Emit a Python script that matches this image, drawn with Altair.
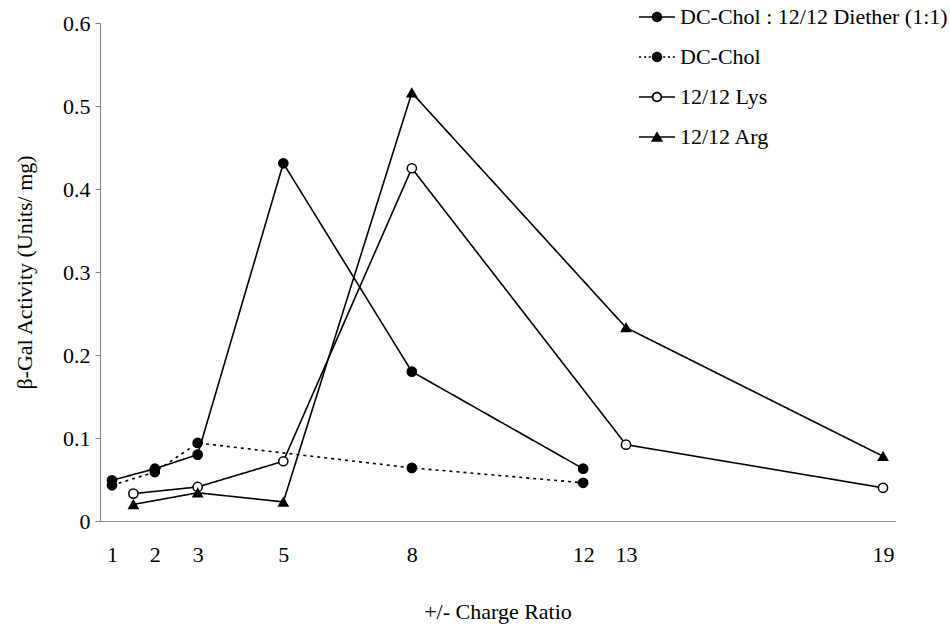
import altair as alt
import pandas as pd

# ---------------- data ----------------
series_names = ["DC-Chol : 12/12 Diether (1:1)", "DC-Chol", "12/12 Lys", "12/12 Arg"]

x_diether = [1, 2, 3, 5, 8, 12]
y_diether = [0.049, 0.063, 0.080, 0.431, 0.180, 0.063]

x_dcchol = [1, 2, 3, 8, 12]
y_dcchol = [0.043, 0.059, 0.094, 0.064, 0.046]

x_lys = [1.5, 3, 5, 8, 13, 19]
y_lys = [0.033, 0.041, 0.072, 0.425, 0.092, 0.040]

x_arg = [1.5, 3, 5, 8, 13, 19]
y_arg = [0.020, 0.034, 0.023, 0.516, 0.233, 0.078]

x_ticks = [1, 2, 3, 5, 8, 12, 13, 19]
y_ticks = [0, 0.1, 0.2, 0.3, 0.4, 0.5, 0.6]

rows = []
for name, xs, ys in zip(series_names,
                        [x_diether, x_dcchol, x_lys, x_arg],
                        [y_diether, y_dcchol, y_lys, y_arg]):
    for i, (xv, yv) in enumerate(zip(xs, ys)):
        rows.append({"series": name, "ratio": xv, "activity": yv, "order": i})
df = pd.DataFrame(rows)

# ---------------- styling ----------------
FONT = "Liberation Serif"
FS = 22
dash_range = [[1, 0], [3, 4], [1, 0], [1, 0]]
shape_range = ["circle", "circle", "circle", "triangle-up"]
fill_range = ["black", "black", "white", "black"]


# legend symbols: line + marker drawn as filled custom paths (unit box -1..1)
def seg(x0, x1, h=0.042):
    return f"M{x0},{-h}L{x1},{-h}L{x1},{h}L{x0},{h}Z"


r = 0.29
ri = 0.2
circ = f"M{r},0A{r},{r},0,1,1,{-r},0A{r},{r},0,1,1,{r},0Z"
hole = f"M{ri},0A{ri},{ri},0,1,0,{-ri},0A{ri},{ri},0,1,0,{ri},0Z"
solid_line = seg(-1, 1)
dotted_line = "".join(seg(a, b) for a, b in
                      [(-1, -0.88), (-0.72, -0.6), (-0.46, -0.34),
                       (0.34, 0.46), (0.6, 0.72), (0.88, 1)])
open_line = seg(-1, -r + 0.02) + seg(r - 0.02, 1)
tri = "M0,-0.32L0.34,0.26L-0.34,0.26Z"
legend_paths = [solid_line + circ, dotted_line + circ,
                open_line + circ + hole, solid_line + tri]

x_enc = alt.X(
    "ratio:Q",
    scale=alt.Scale(domain=[0.72, 19.28], nice=False, zero=False),
    axis=alt.Axis(values=x_ticks, title="+/- Charge Ratio", grid=False, ticks=False,
                  labelPadding=23, titlePadding=36, domainColor="#8c8c8c",
                  domainWidth=1, labelFlush=False),
)
y_enc = alt.Y(
    "activity:Q",
    scale=alt.Scale(domain=[0, 0.6], nice=False),
    axis=alt.Axis(values=y_ticks, title="β-Gal Activity (Units/ mg)", grid=False,
                  tickSize=5, tickColor="#808080", domainColor="#808080",
                  labelPadding=5, titlePadding=26,
                  labelExpr="datum.value == 0 ? '0' : format(datum.value, '.1f')"),
)

lines = alt.Chart(df).mark_line(color="black", strokeWidth=1.6).encode(
    x=x_enc, y=y_enc,
    detail="series:N",
    order="order:Q",
    strokeDash=alt.StrokeDash("series:N", scale=alt.Scale(domain=series_names, range=dash_range), legend=None),
)

points = alt.Chart(df).mark_point(filled=True, stroke="black", strokeWidth=1.5, opacity=1, size=85).encode(
    x="ratio:Q", y="activity:Q",
    shape=alt.Shape("series:N", scale=alt.Scale(domain=series_names, range=shape_range), legend=None),
    fill=alt.Fill("series:N", scale=alt.Scale(domain=series_names, range=fill_range), legend=None),
)

legend_layer = alt.Chart(df).mark_point(filled=True, color="black", opacity=0).encode(
    x="ratio:Q", y="activity:Q",
    shape=alt.Shape(
        "series:N",
        scale=alt.Scale(domain=series_names, range=legend_paths),
        legend=alt.Legend(
            title=None, orient="none", legendX=539, legendY=-24,
            labelFont=FONT, labelFontSize=FS, labelColor="black", labelLimit=500,
            labelOffset=5, symbolSize=1296, symbolFillColor="black",
            symbolStrokeColor="black", symbolStrokeWidth=0, symbolOpacity=1,
            rowPadding=11,
        ),
    ),
)

chart = (
    alt.layer(lines, points, legend_layer)
    .resolve_scale(shape="independent", fill="independent", strokeDash="independent")
    .properties(
        width=795, height=498,
        autosize=alt.AutoSizeParams(type="none"),
        padding={"left": 100, "top": 23, "right": 55, "bottom": 110},
        background="white",
    )
    .configure_view(stroke=None)
    .configure_axis(labelFont=FONT, labelFontSize=FS, labelColor="black",
                    titleFont=FONT, titleFontSize=FS, titleColor="black",
                    titleFontWeight="normal")
)

chart.save("out.html", embed_options={"renderer": "svg", "actions": False})
